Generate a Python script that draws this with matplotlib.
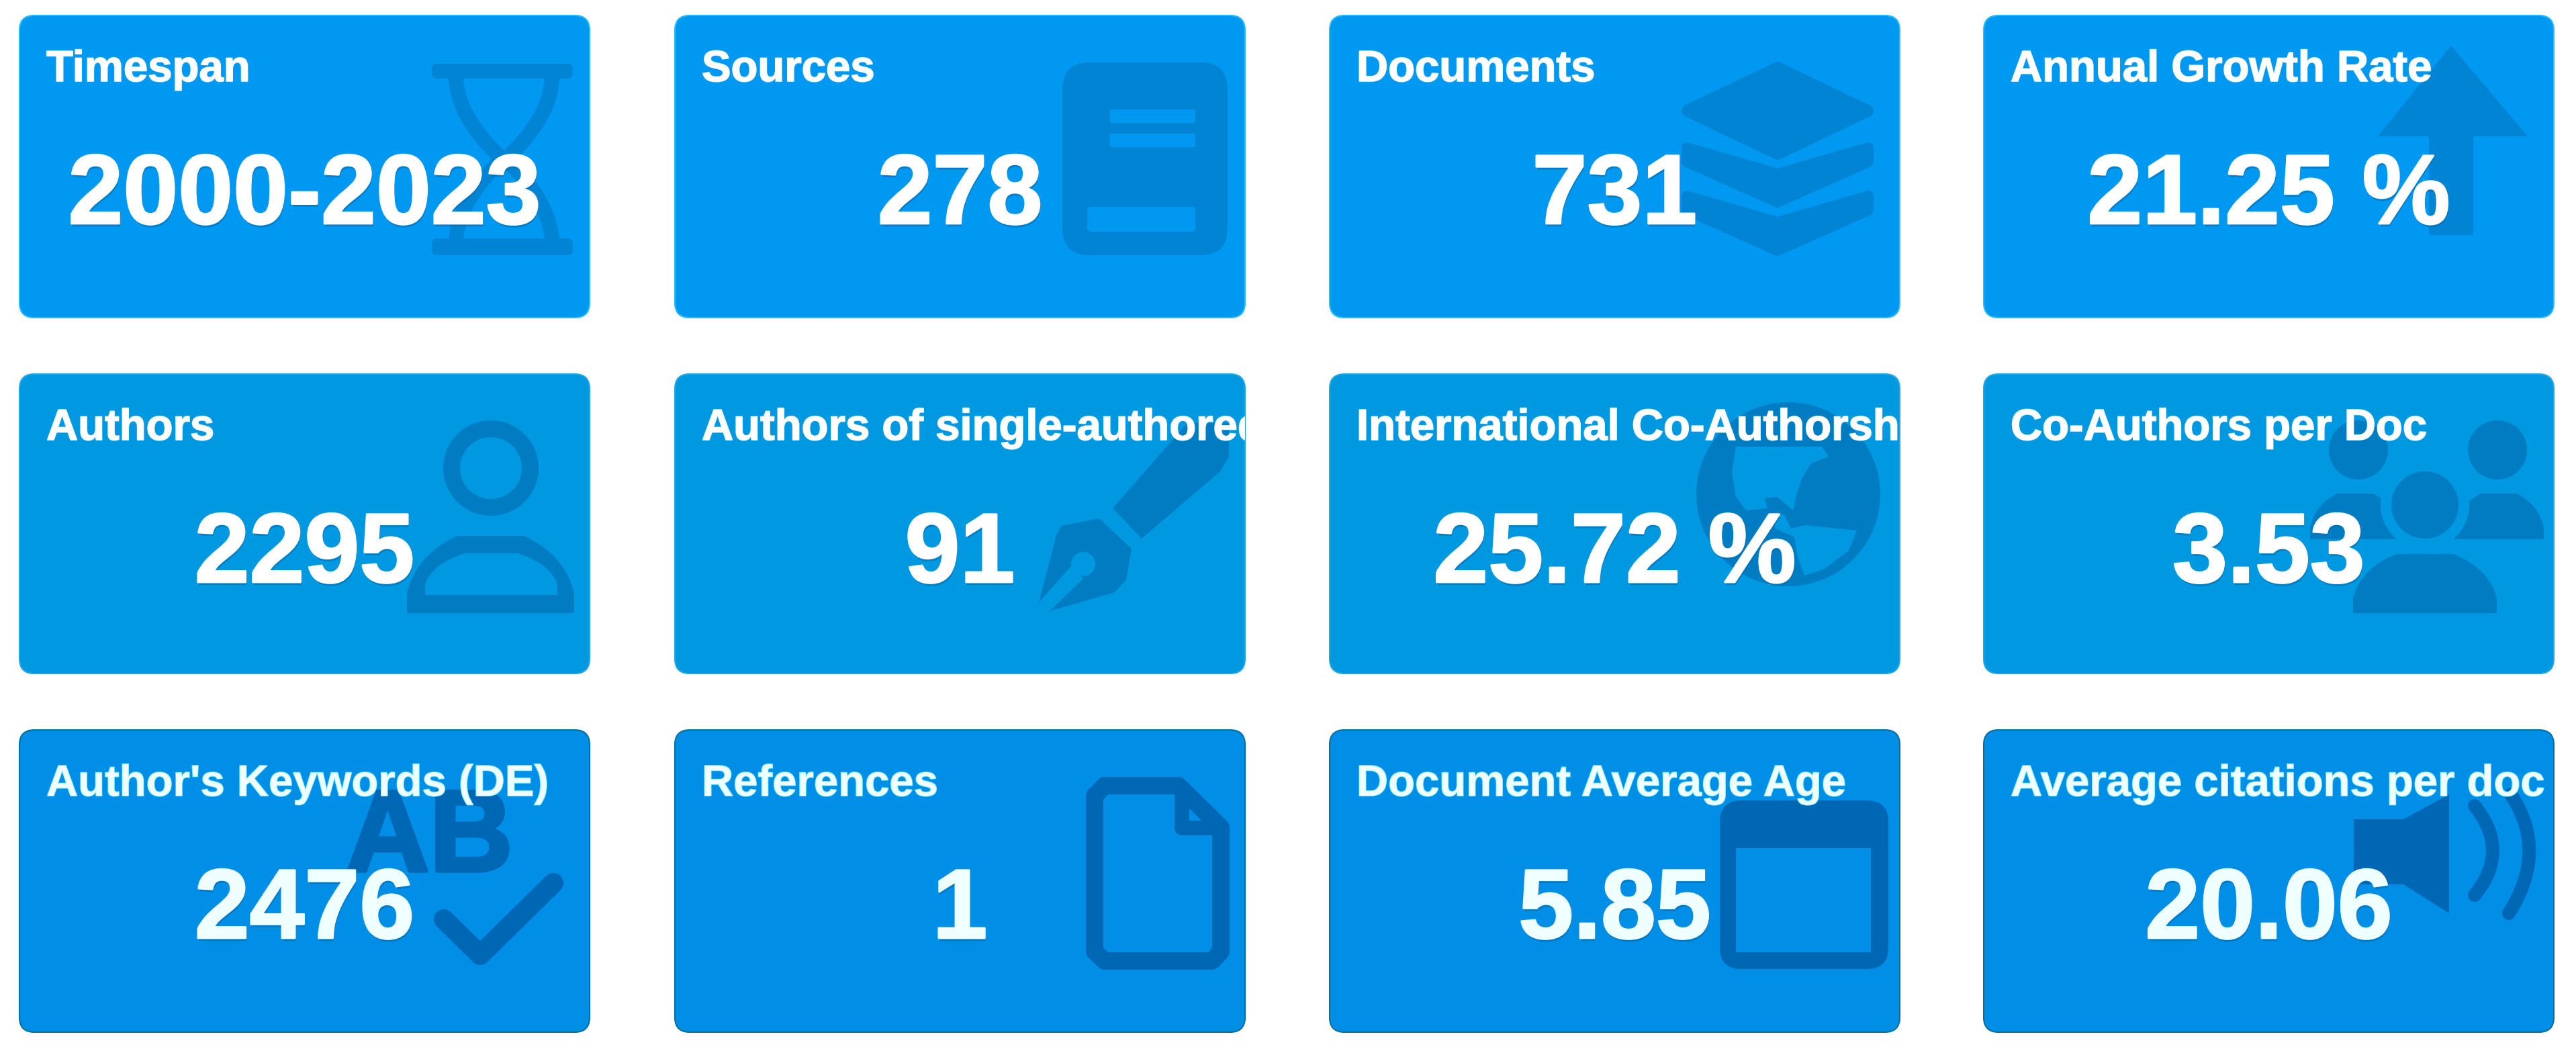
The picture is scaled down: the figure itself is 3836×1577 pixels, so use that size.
import numpy as np
import matplotlib
matplotlib.use("Agg")
import matplotlib.pyplot as plt
import matplotlib.patheffects as pe
from matplotlib.patches import FancyBboxPatch, Polygon, Ellipse, Rectangle, PathPatch
from matplotlib.path import Path

# Card contents
titles = ["Timespan", "Sources", "Documents", "Annual Growth Rate",
          "Authors", "Authors of single-authored docs", "International Co-Authorship", "Co-Authors per Doc",
          "Author's Keywords (DE)", "References", "Document Average Age", "Average citations per doc"]
values = ["2000-2023", "278", "731", "21.25 %",
          "2295", "91", "25.72 %", "3.53",
          "2476", "1", "5.85", "20.06"]

# Layout, in pixels of the picture
colLeft = [29, 1005, 1980, 2954]
rowTop = [23, 557, 1087]
rowBottom = [473, 1003, 1537]
cardWidth = 849

# Style per row, the scan gets darker towards the bottom
cardColor = ["#0098F0", "#0098E0", "#008EE6"]
iconColor = ["#0084D3", "#007CC2", "#0067B5"]
edgeColor = ["#28BCFA", "#22A8E4", "#00709F"]
textColor = ["#FFFFFF", "#FFFFFF", "#EFFFFF"]
titleGlow = ["#E8F8FF", "#E8F8FF", "#60EEFF"]

PX = 0.72  # pixels to points at dpi 100


def polygon(ax, x0, y0, pts, col, clip, z=2, lw=0):
    pts = np.array(pts, dtype=float) + [x0, y0]
    p = Polygon(pts, closed=True, facecolor=col, edgecolor=col, linewidth=lw * PX, joinstyle="round", zorder=z)
    ax.add_patch(p)
    p.set_clip_path(clip)


def circle(ax, x0, y0, cx, cy, r, col, clip, z=2):
    p = Ellipse((x0 + cx, y0 + cy), 2 * r, 2 * r, facecolor=col, edgecolor="none", zorder=z)
    ax.add_patch(p)
    p.set_clip_path(clip)


def box(ax, x0, y0, l, t, r, b, col, clip, z=2, round=0):
    if round > 0:
        p = FancyBboxPatch((x0 + l, y0 + t), r - l, b - t, boxstyle="round,pad=0,rounding_size=%d" % round,
                           facecolor=col, edgecolor="none", zorder=z)
    else:
        p = Rectangle((x0 + l, y0 + t), r - l, b - t, facecolor=col, edgecolor="none", zorder=z)
    ax.add_patch(p)
    p.set_clip_path(clip)


def dome(ax, x0, y0, l, t, r, b, col, clip, z=2):
    w = r - l
    h = b - t
    verts = [(l, b), (l, t + 0.75 * h), (l + 0.05 * w, t + 0.25 * h), (l + 0.3 * w, t), (r - 0.3 * w, t),
             (r - 0.05 * w, t + 0.25 * h), (r, t + 0.75 * h), (r, b), (l, b)]
    codes = [Path.MOVETO, Path.LINETO, Path.CURVE3, Path.CURVE3, Path.LINETO,
             Path.CURVE3, Path.CURVE3, Path.LINETO, Path.CLOSEPOLY]
    verts = np.array(verts, dtype=float) + [x0, y0]
    p = PathPatch(Path(verts, codes), facecolor=col, edgecolor="none", zorder=z)
    ax.add_patch(p)
    p.set_clip_path(clip)


def stroke(ax, x0, y0, verts, codes, col, clip, lw, z=2, cap="round"):
    verts = np.array(verts, dtype=float) + [x0, y0]
    p = PathPatch(Path(verts, codes), facecolor="none", edgecolor=col, linewidth=lw * PX,
                  capstyle=cap, joinstyle="round", zorder=z)
    ax.add_patch(p)
    p.set_clip_path(clip)


# One function per icon, coordinates are relative to the card corner
def hourglass(ax, x0, y0, col, bg, clip):
    box(ax, x0, y0, 614, 72, 824, 94, col, clip, round=8)
    box(ax, x0, y0, 614, 332, 824, 357, col, clip, round=8)
    C = [Path.MOVETO, Path.CURVE3, Path.CURVE3]
    stroke(ax, x0, y0, [(650, 90), (650, 150), (719, 214)], C, col, clip, 22)
    stroke(ax, x0, y0, [(793, 90), (793, 150), (724, 214)], C, col, clip, 22)
    stroke(ax, x0, y0, [(650, 340), (650, 280), (719, 214)], C, col, clip, 22)
    stroke(ax, x0, y0, [(793, 340), (793, 280), (724, 214)], C, col, clip, 22)


def book(ax, x0, y0, col, bg, clip):
    box(ax, x0, y0, 577, 70, 823, 357, col, clip, round=40)
    box(ax, x0, y0, 648, 140, 775, 160, bg, clip, z=3)
    box(ax, x0, y0, 648, 176, 775, 196, bg, clip, z=3)
    box(ax, x0, y0, 614, 285, 775, 322, bg, clip, z=3, round=6)


def layers(ax, x0, y0, col, bg, clip):
    cx = 667
    polygon(ax, x0, y0, [(cx, 78), (cx + 134, 142), (cx, 206), (cx - 134, 142)], col, clip, lw=18)
    for dy in [0, 72]:
        polygon(ax, x0, y0, [(cx - 135, 197 + dy), (cx, 236 + dy), (cx + 135, 197 + dy),
                             (cx + 135, 218 + dy), (cx, 278 + dy), (cx - 135, 218 + dy)], col, clip, lw=16)


def arrow(ax, x0, y0, col, bg, clip):
    polygon(ax, x0, y0, [(696, 45), (810, 180), (729, 180), (729, 327), (663, 327), (663, 180), (587, 180)], col, clip)


def person(ax, x0, y0, col, bg, clip):
    circle(ax, x0, y0, 702, 140, 71, col, clip)
    circle(ax, x0, y0, 702, 140, 46, bg, clip, z=3)
    dome(ax, x0, y0, 577, 241, 826, 356, col, clip)
    dome(ax, x0, y0, 604, 267, 801, 329, bg, clip, z=3)


def pen(ax, x0, y0, col, bg, clip):
    polygon(ax, x0, y0, [(763, 73), (825, 73), (825, 123), (812, 145), (695, 245), (652, 200)], col, clip)
    polygon(ax, x0, y0, [(575, 226), (632, 215), (680, 260), (672, 306), (655, 325), (558, 353), (542, 340), (568, 240)],
            col, clip)
    circle(ax, x0, y0, 608, 283, 18, bg, clip, z=3)
    polygon(ax, x0, y0, [(590, 286), (608, 305), (558, 353), (542, 340)], bg, clip, z=3)


def globe(ax, x0, y0, col, bg, clip):
    circle(ax, x0, y0, 683, 179, 137, col, clip)
    polygon(ax, x0, y0, [(605, 108), (733, 108), (743, 123), (717, 133), (703, 156), (695, 180), (690, 203),
                         (667, 183), (648, 185), (652, 200), (620, 203), (605, 183), (599, 146)], bg, clip, z=3)
    polygon(ax, x0, y0, [(663, 206), (677, 210), (687, 230), (707, 225), (785, 233), (773, 263), (737, 290),
                         (707, 300), (697, 273), (692, 243), (663, 230)], bg, clip, z=3)


def group(ax, x0, y0, col, bg, clip):
    circle(ax, x0, y0, 558, 113, 44, col, clip)
    circle(ax, x0, y0, 765, 113, 44, col, clip)
    dome(ax, x0, y0, 486, 178, 620, 246, col, clip)
    dome(ax, x0, y0, 700, 178, 834, 246, col, clip)
    circle(ax, x0, y0, 657, 195, 66, bg, clip, z=3)
    circle(ax, x0, y0, 657, 195, 50, col, clip, z=4)
    dome(ax, x0, y0, 550, 268, 764, 356, col, clip, z=4)


def keywords(ax, x0, y0, col, bg, clip):
    heavy = [pe.withStroke(linewidth=4, foreground=col)]
    t = ax.text(x0 + 486, y0 + 210, "AB", fontsize=124, fontweight="bold", color=col,
                family="Liberation Sans", ha="left", va="baseline", zorder=2, path_effects=heavy)
    stroke(ax, x0, y0, [(632, 282), (686, 335), (795, 228)], [Path.MOVETO, Path.LINETO, Path.LINETO], col, clip, 30)


def document(ax, x0, y0, col, bg, clip):
    L = Path.LINETO
    stroke(ax, x0, y0, [(640, 83), (750, 83), (813, 145), (813, 330), (800, 344), (640, 344), (625, 330), (625, 98), (640, 83)],
           [Path.MOVETO, L, L, L, L, L, L, L, L], col, clip, 26)
    stroke(ax, x0, y0, [(755, 90), (755, 146), (810, 146)], [Path.MOVETO, L, L], col, clip, 22)


def calendar(ax, x0, y0, col, bg, clip):
    box(ax, x0, y0, 581, 105, 832, 356, col, clip, round=32)
    box(ax, x0, y0, 605, 176, 806, 331, bg, clip, z=3)


def speaker(ax, x0, y0, col, bg, clip):
    polygon(ax, x0, y0, [(551, 133), (625, 133), (693, 96), (693, 273), (625, 230), (551, 230)], col, clip)
    C = [Path.MOVETO, Path.CURVE3, Path.CURVE3]
    stroke(ax, x0, y0, [(731, 113), (785, 180), (731, 246)], C, col, clip, 20)
    stroke(ax, x0, y0, [(785, 96), (841, 180), (782, 273)], C, col, clip, 20)


icons = [hourglass, book, layers, arrow, person, pen, globe, group, keywords, document, calendar, speaker]


def plotCards():
    fig = plt.figure(figsize=(38.37, 15.77), dpi=100, facecolor="white")
    ax = fig.add_axes([0, 0, 1, 1])
    ax.set_xlim(0, 3837)
    ax.set_ylim(1577, 0)
    ax.axis("off")

    for i, title in enumerate(titles):
        row = i // 4
        col = i % 4
        x0 = colLeft[col]
        y0 = rowTop[row]
        h = rowBottom[row] - y0

        # Card background
        card = FancyBboxPatch((x0, y0), cardWidth, h, boxstyle="round,pad=0,rounding_size=22",
                              facecolor=cardColor[row], edgecolor=edgeColor[row], linewidth=1.5, zorder=1)
        ax.add_patch(card)

        icons[i](ax, x0, y0, iconColor[row], cardColor[row], card)

        # Title, cut off by the card when too long (ax.text has clip_on off by default)
        t = ax.text(x0 + 40, y0 + 98, title, fontsize=47, fontweight="bold", color=textColor[row],
                    family="Liberation Sans", ha="left", va="baseline", zorder=6, clip_on=True,
                    path_effects=[pe.withStroke(linewidth=1.2, foreground=titleGlow[row])])
        t.set_clip_path(card)

        # Value, slightly thickened like the blurred scan
        valueFx = [pe.withSimplePatchShadow(offset=(1, -3), shadow_rgbFace="#006CB0", alpha=0.6),
                   pe.withStroke(linewidth=2, foreground=textColor[row])]
        ax.text(x0 + cardWidth / 2, y0 + 310, values[i], fontsize=106, fontweight="bold", color=textColor[row],
                family="Liberation Sans", ha="center", va="baseline", zorder=6, path_effects=valueFx)

    fig.savefig("out.png", dpi=100, facecolor="white")


if (__name__ == "__main__"):
    plotCards()
